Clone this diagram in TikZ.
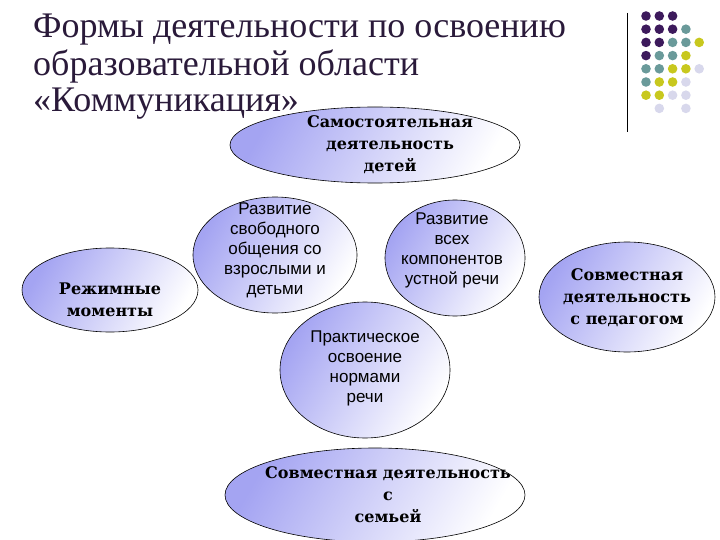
\documentclass[tikz,border=0pt]{standalone}
\usepackage{fontspec}
\setmainfont{Liberation Serif}
\newfontfamily\sansf{Liberation Sans}
\newfontfamily\boldf{DejaVu Serif}
\definecolor{dP}{HTML}{3D1A5C}
\definecolor{dT}{HTML}{6A9A9A}
\definecolor{dY}{HTML}{C8C81E}
\definecolor{dL}{HTML}{D8D8EC}
\definecolor{ttl}{HTML}{2A1A3A}
\definecolor{shd}{HTML}{A4A4F2}
\begin{document}
\begin{tikzpicture}[x=1pt,y=-1pt,
  ell/.style={draw=black,line width=0.6pt,left color=shd,right color=white,shading angle=60},
  plain/.style={font=\sansf\fontsize{17}{20}\selectfont,align=center},
  bold/.style={font=\boldf\bfseries\fontsize{16}{22}\selectfont,align=center},
  ttlstyle/.style={anchor=base west,font=\fontsize{36}{38}\selectfont,text=ttl,inner sep=0pt}]
\useasboundingbox (0,0) rectangle (720,540);
\clip (0,0) rectangle (720,540);
% title
\node[ttlstyle] (t1) at (33,38) {Формы деятельности по освоению};
\node[ttlstyle] (t2) at (33,76) {образовательной области};
\node[ttlstyle] (t3) at (33,112) {«Коммуникация»};
% decoration
\draw[line width=1pt] (627,13) -- (627,132);
\foreach \r/\cols in {0/{P,P,P},1/{P,P,P,T},2/{P,P,T,T,Y},3/{P,T,T,Y},4/{T,T,Y,Y,L},5/{T,Y,Y,L},6/{Y,Y,L,L}}{
  \foreach \c [count=\i from 0] in \cols {
    \fill[d\c] ({646+13.3*\i},{16+13.2*\r}) circle (4.8);
  }
}
\fill[dL] (659.3,108.4) circle (4.8);
\fill[dL] (685.9,108.4) circle (4.8);
% ellipses
\draw[ell] (375,145) ellipse (145 and 38);
\node[bold] (e1) at (390,145) {Самостоятельная\\деятельность\\детей};
\draw[ell] (110,290) ellipse (88 and 42);
\node[bold] (e2) at (110,300) {Режимные\\моменты};
\draw[ell] (275,255) ellipse (82 and 58);
\node[plain] (e3) at (275,250) {Развитие\\свободного\\общения со\\взрослыми и\\детьми};
\draw[ell] (455,258) ellipse (70 and 58);
\node[plain] (e4) at (452,250) {Развитие\\всех\\компонентов\\устной речи};
\draw[ell] (365,370) ellipse (85 and 68);
\node[plain] (e5) at (365,368) {Практическое\\освоение\\нормами\\речи};
\draw[ell] (627,297) ellipse (88 and 55);
\node[bold] (e6) at (627,298) {Совместная\\деятельность\\с педагогом};
\draw[ell] (375,495) ellipse (150 and 47);
\node[bold] (e7) at (388,495) {Совместная деятельность\\с\\семьей};
\end{tikzpicture}
\end{document}
